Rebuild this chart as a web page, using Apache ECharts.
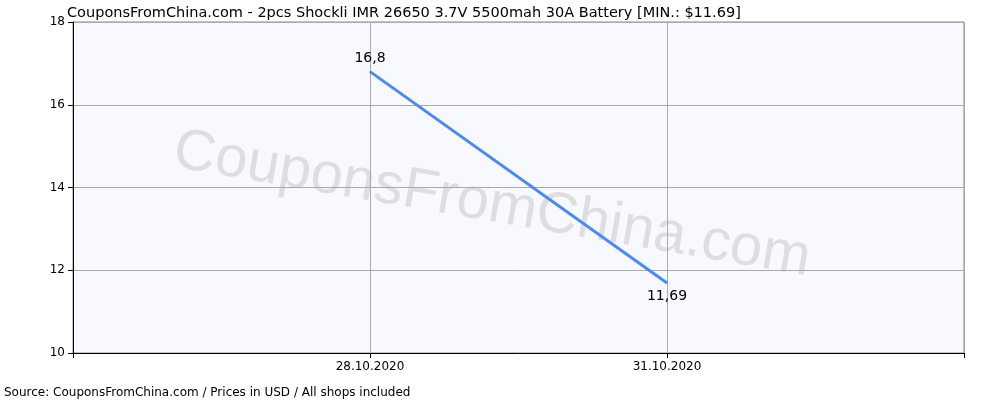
<!DOCTYPE html>
<html><head><meta charset="utf-8">
<script src="https://cdn.jsdelivr.net/npm/echarts@6/dist/echarts.min.js"></script>
<style>html,body{margin:0;padding:0;background:#fff}#chart{width:1000px;height:400px}</style>
</head><body><div id="chart"></div>
<script>
// Chart Data
const dates = ["28.10.2020", "31.10.2020"];
const prices = [16.8, 11.69];
const priceLabels = ["16,8", "11,69"];

const chart = echarts.init(document.getElementById("chart"), null, { renderer: "canvas" });

const points = prices.map((p, i) => ({
  value: [i + 1, p],
  label: { position: i === 0 ? "top" : "bottom", formatter: priceLabels[i] },
}));

chart.setOption({
  animation: false,
  title: {
    text: "CouponsFromChina.com - 2pcs Shockli IMR 26650 3.7V 5500mah 30A Battery [MIN.: $11.69]",
    left: 62, top: 1,
    textStyle: { fontFamily: "DejaVu Sans", fontSize: 14.5, fontWeight: "normal", color: "#000" },
  },
  graphic: [
    {
      type: "text", x: 492, y: 205, rotation: -0.17,
      style: { text: "CouponsFromChina.com", font: "58px 'Liberation Sans'", fill: "rgba(200,200,200,0.55)", align: "center", verticalAlign: "middle" },
    },
    {
      type: "text", left: 4, top: 387,
      style: { text: "Source: CouponsFromChina.com / Prices in USD / All shops included", font: "12px 'DejaVu Sans'", fill: "#000" },
    },
  ],
  grid: { left: 73, right: 36, top: 22, bottom: 47, show: true, backgroundColor: "#f8f8ff", borderColor: "#888", borderWidth: 1 },
  xAxis: {
    type: "value", min: 0, max: 3, interval: 1,
    axisLine: { show: true, lineStyle: { color: "#000" } },
    axisTick: { show: true, length: 5, lineStyle: { color: "#000" } },
    splitLine: { show: true, lineStyle: { color: "#aaa" } },
    axisLabel: {
      fontFamily: "DejaVu Sans", fontSize: 12, color: "#000", margin: 8,
      formatter: v => dates[v - 1] || "",
    },
  },
  yAxis: {
    type: "value", min: 10, max: 18, interval: 2,
    axisLine: { show: true, lineStyle: { color: "#000" } },
    axisTick: { show: true, length: 5, lineStyle: { color: "#000" } },
    splitLine: { show: true, lineStyle: { color: "#aaa" } },
    axisLabel: { fontFamily: "DejaVu Sans", fontSize: 12, color: "#000" },
  },
  series: [{
    type: "line", data: points, symbol: "circle", symbolSize: 1, showSymbol: true,
    itemStyle: { color: "#4a8bec" },
    lineStyle: { color: "#4a8bec", width: 3 },
    label: { show: true, fontFamily: "DejaVu Sans", fontSize: 14, color: "#000", distance: 6 },
  }],
});
</script></body></html>
